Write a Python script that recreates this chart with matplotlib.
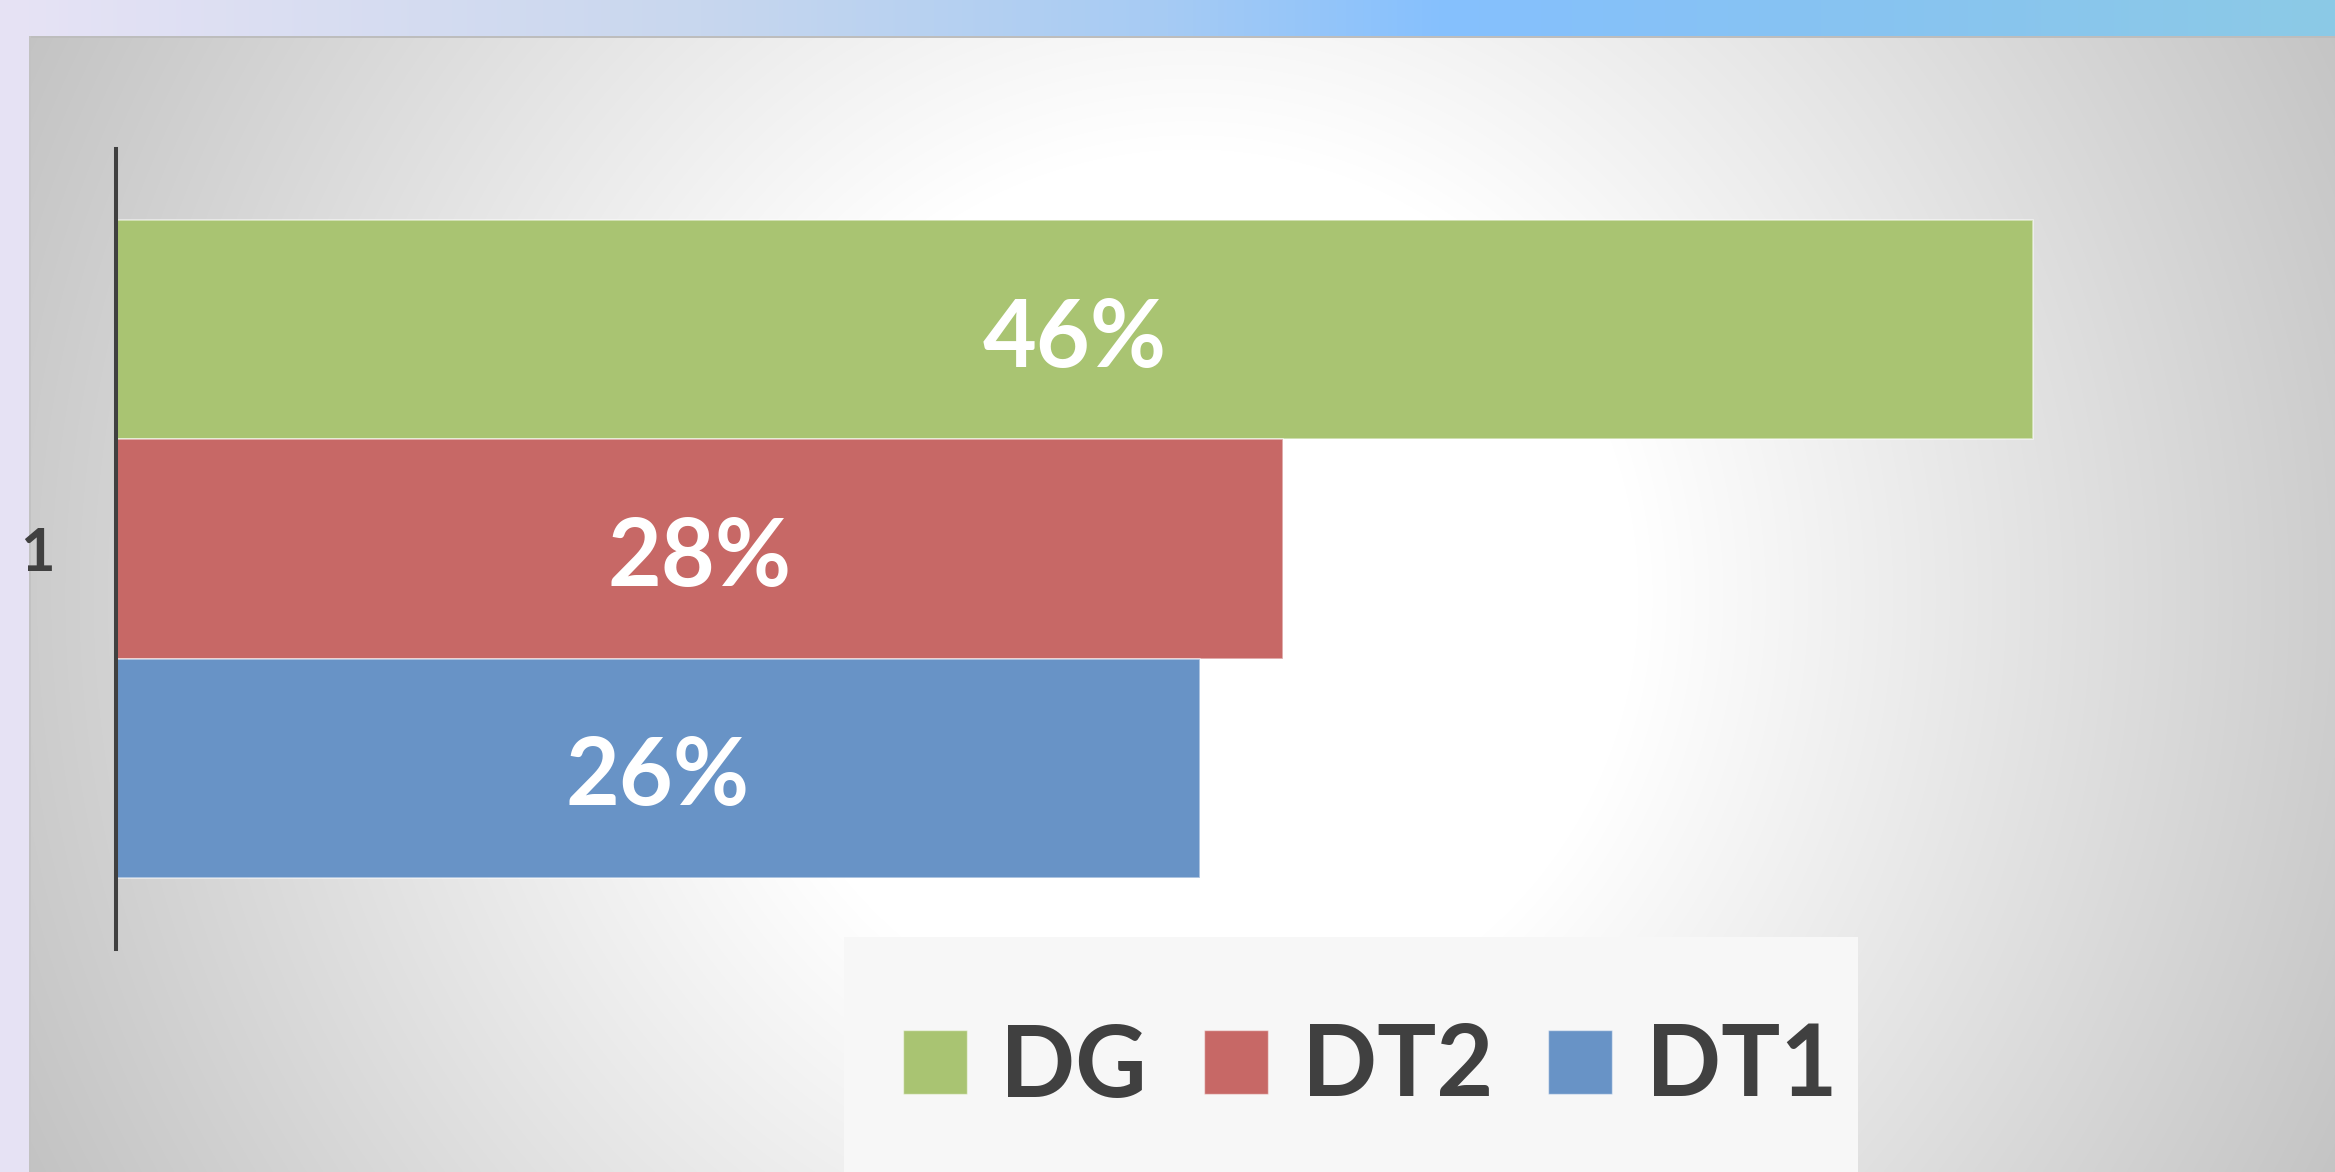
import numpy as np
import matplotlib
matplotlib.use("Agg")
import matplotlib.pyplot as plt
from matplotlib.colors import to_rgb
from matplotlib.patches import Rectangle
from matplotlib.transforms import offset_copy

# ---- data ----
categories = ["1"]
series = ["DG", "DT2", "DT1"]
values = [46, 28, 26]
colors = ["#a9c472", "#c76866", "#6893c6"]

W, H = 2335, 1172
DPI = 100
FONT = ["Lato", "DejaVu Sans"]
TXT = "#404040"

fig = plt.figure(figsize=(W / DPI, H / DPI), dpi=DPI)

# ---- background (pixel coordinate axes) ----
bg = fig.add_axes([0, 0, 1, 1])
bg.set_axis_off()
yy, xx = np.mgrid[0:H, 0:W].astype(float)
cx, cy = 1191, 596
r = np.hypot(xx - cx, yy - cy)
t = np.clip((r - 447) / (1310 - 447), 0, 1)
v = 1 - t * (255 - 194) / 255
img = np.dstack([v, v, v])
stops = [(0, "#e7e3f5"), (0.3, "#c8d7ee"), (0.5, "#a6cbf4"), (0.62, "#85c0fe"),
         (0.78, "#87c3f2"), (1.0, "#8ccae6")]
xs = np.linspace(0, 1, W)
strip = np.stack([np.interp(xs, [s[0] for s in stops], [to_rgb(s[1])[i] for s in stops])
                  for i in range(3)], axis=-1)
img[:36, :, :] = strip[None, :, :]
img[:, :29, :] = to_rgb("#e6e2f4")
img[36:38, 29:, :] = to_rgb("#bdbdbd")
img[36:, 29:31, :] = to_rgb("#c2c2c2")
bg.imshow(img, extent=[0, W, H, 0], aspect="auto", interpolation="bilinear")
bg.set_xlim(0, W)
bg.set_ylim(H, 0)

# legend box
bg.add_patch(Rectangle((844, 937), 1014, 235, facecolor="#f7f7f7", edgecolor="none"))
patch_x = [903, 1204, 1548]
text_x = [1000, 1302, 1646]
for name, c, px, tx in zip(series, colors, patch_x, text_x):
    bg.add_patch(Rectangle((px, 1030), 64, 64, facecolor=c, edgecolor=(1, 1, 1, 0.5), linewidth=1))
    bg.text(tx, 1068, name, ha="left", va="center", fontsize=71, fontweight="bold",
            family=FONT, color=TXT)

# ---- bar axes ----
ax = fig.add_axes([116 / W, (H - 949) / H, 2084 / W, 800 / H])
ax.patch.set_alpha(0)
bar_h = 0.274
offsets = [bar_h, 0.0, -bar_h]
lbl_tr = offset_copy(ax.transData, fig=fig, x=0, y=-10, units="dots")
for name, val, c, o in zip(series, values, colors, offsets):
    ax.barh([0 + o], [val], height=bar_h, color=c,
            edgecolor=(1, 1, 1, 0.55), linewidth=1.2, label=name)
    ax.text(val / 2, 0 + o, f"{val}%", transform=lbl_tr, ha="center", va="center",
            color="white", fontsize=67, fontweight="bold", family=FONT)

ax.set_xlim(0, 50)
ax.set_ylim(-0.5, 0.5)
ax.set_yticks([0])
ax.set_yticklabels(categories, family=FONT, fontweight="bold")
ax.tick_params(axis="y", length=0, pad=44, labelsize=43, labelcolor=TXT)
ax.set_xticks([])
for s in ["top", "right", "bottom"]:
    ax.spines[s].set_visible(False)
ax.spines["left"].set_linewidth(2.9)
ax.spines["left"].set_color(TXT)

fig.savefig("out.png", dpi=DPI)
